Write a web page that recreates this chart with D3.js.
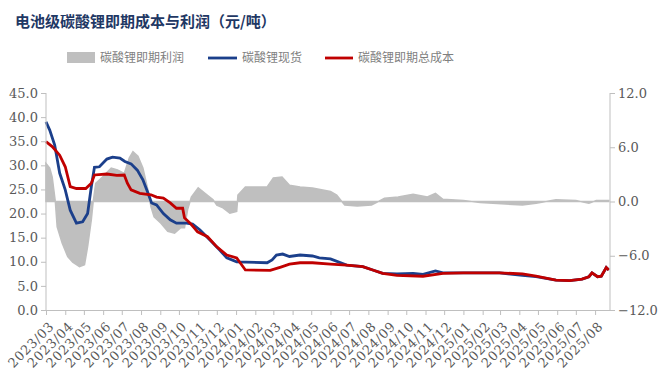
<!DOCTYPE html>
<html lang="zh">
<head>
<meta charset="UTF-8">
<script src="https://cdn.jsdelivr.net/npm/d3@7"></script>
<title>电池级碳酸锂即期成本与利润</title>
<style>
  body { margin: 0; background: #fff; }
  svg text { font-family: "DejaVu Serif", "Liberation Serif", serif; fill: #595959; }
  .cjk { font-family: "Noto Sans CJK SC", sans-serif; }
</style>
</head>
<body>
<script>
// 碳酸锂现货 (万元/吨)
let spotDates = ["2023-03-01","2023-03-07","2023-03-15","2023-03-23","2023-04-01","2023-04-09","2023-04-19","2023-04-29","2023-05-07","2023-05-13","2023-05-18","2023-05-26","2023-06-07","2023-06-16","2023-06-28","2023-07-06","2023-07-16","2023-07-26","2023-08-04","2023-08-12","2023-08-18","2023-08-26","2023-09-06","2023-09-17","2023-09-27","2023-10-13","2023-10-23","2023-11-04","2023-11-20","2023-12-06","2023-12-17","2024-01-02","2024-02-20","2024-02-28","2024-03-06","2024-03-16","2024-03-27","2024-04-13","2024-05-03","2024-05-14","2024-06-01","2024-06-27","2024-07-23","2024-08-08","2024-08-24","2024-09-16","2024-10-12","2024-10-28","2024-11-17","2024-11-29","2025-01-01","2025-02-28","2025-04-06","2025-04-28","2025-05-30","2025-06-21","2025-07-11","2025-07-22","2025-07-27","2025-08-05","2025-08-11","2025-08-19","2025-08-23"];
let spotValues = [39.0,37.3,34.2,28.4,24.9,20.7,18.0,18.3,20.0,25.6,29.6,29.7,31.3,31.7,31.5,30.8,30.3,29.0,27.0,24.3,22.2,21.8,20.0,18.7,18.0,18.0,17.8,16.6,14.5,12.4,10.8,10.0,9.8,10.4,11.4,11.6,11.1,11.4,11.2,10.8,10.6,9.3,9.0,8.3,7.6,7.5,7.6,7.4,8.1,7.7,7.7,7.7,7.2,6.9,6.2,6.1,6.4,6.9,7.7,6.9,7.0,8.8,8.3];

// 碳酸锂即期总成本
let costDates = ["2023-03-01","2023-03-11","2023-03-23","2023-04-01","2023-04-09","2023-04-19","2023-05-04","2023-05-13","2023-05-18","2023-06-07","2023-06-23","2023-07-05","2023-07-10","2023-07-16","2023-07-30","2023-08-17","2023-08-26","2023-09-06","2023-09-17","2023-09-27","2023-10-07","2023-10-10","2023-10-19","2023-10-31","2023-11-16","2023-12-01","2023-12-17","2024-01-02","2024-01-16","2024-02-25","2024-03-13","2024-03-27","2024-04-13","2024-05-03","2024-06-01","2024-06-27","2024-07-23","2024-08-08","2024-08-24","2024-09-16","2024-10-28","2024-11-29","2025-01-01","2025-02-28","2025-04-06","2025-04-28","2025-05-30","2025-06-21","2025-07-11","2025-07-22","2025-07-27","2025-08-05","2025-08-11","2025-08-19","2025-08-23"];
let costValues = [34.9,33.9,32.1,29.7,25.6,25.2,25.2,26.3,28.0,28.2,27.9,28.0,26.3,24.9,24.2,23.9,23.4,23.2,22.2,21.1,21.1,19.1,18.0,16.2,15.2,13.1,11.4,10.8,8.3,8.2,8.9,9.5,9.8,9.8,9.5,9.3,9.0,8.3,7.6,7.2,7.0,7.6,7.7,7.7,7.5,7.0,6.2,6.1,6.4,6.9,7.7,6.9,7.0,8.8,8.3];

// 碳酸锂即期利润 (右轴)
let profitDates = ["2023-03-01","2023-03-07","2023-03-11","2023-03-16","2023-03-19","2023-03-27","2023-04-05","2023-04-13","2023-04-24","2023-05-02","2023-05-07","2023-05-13","2023-05-16","2023-05-20","2023-05-31","2023-06-14","2023-06-24","2023-07-05","2023-07-13","2023-07-19","2023-07-27","2023-08-04","2023-08-12","2023-08-17","2023-08-22","2023-09-02","2023-09-13","2023-09-24","2023-10-04","2023-10-10","2023-10-15","2023-10-21","2023-11-01","2023-11-12","2023-11-25","2023-12-01","2023-12-11","2023-12-22","2024-01-02","2024-01-04","2024-01-16","2024-02-20","2024-03-01","2024-03-15","2024-03-27","2024-04-13","2024-05-03","2024-06-01","2024-06-11","2024-06-24","2024-07-14","2024-08-06","2024-08-27","2024-09-18","2024-10-12","2024-11-04","2024-11-17","2024-11-29","2025-01-01","2025-01-28","2025-04-06","2025-04-28","2025-05-30","2025-07-01","2025-07-22","2025-08-03","2025-08-23"];
let profitValues = [4.2,3.7,2.7,0,-2.8,-4.6,-6.1,-6.7,-7.2,-7.0,-5.0,-2.0,0,2.0,2.7,3.7,3.5,3.1,4.8,5.5,5.0,3.7,1.3,-0.6,-1.7,-2.4,-3.3,-3.5,-2.9,-2.9,-0.9,0.5,1.5,0.9,0.2,-0.4,-0.7,-1.3,-1.1,0.7,1.6,1.6,2.6,2.7,1.8,1.6,1.5,1.1,0.7,-0.4,-0.5,-0.4,0.35,0.5,0.8,0.5,0.9,0.25,0.1,-0.1,-0.4,-0.2,0.2,0.1,-0.2,0.1,0.1];

let leftTicks = [0,5,10,15,20,25,30,35,40,45];
let rightTicks = [-12,-6,0,6,12];

let parse = d3.timeParse("%Y-%m-%d");
let spot = spotDates.map((d,i)=>({date:parse(d), v:spotValues[i]}));
let cost = costDates.map((d,i)=>({date:parse(d), v:costValues[i]}));
let profit = profitDates.map((d,i)=>({date:parse(d), v:profitValues[i]}));

let width = 660, height = 380;
let plotLeft = 46, plotRight = 610, plotTop = 93, plotBottom = 310;

let svg = d3.select("body").append("svg")
    .attr("width", width)
    .attr("height", height);

let x = d3.scaleTime()
    .domain([parse("2023-03-01"), parse("2025-08-25")])
    .range([plotLeft, plotRight]);
let yL = d3.scaleLinear().domain([0,45]).range([plotBottom, plotTop]);
let yR = d3.scaleLinear().domain([-12,12]).range([plotBottom, plotTop]);

// title
svg.append("text")
    .attr("class","cjk")
    .attr("x", 15).attr("y", 27)
    .style("font-size","15px")
    .style("font-weight","bold")
    .style("fill","#1f3864")
    .text("电池级碳酸锂即期成本与利润（元/吨）");

// legend
let legend = svg.append("g");
legend.append("rect").attr("x",67).attr("y",52).attr("width",28).attr("height",11).attr("fill","#bfbfbf");
legend.append("text").attr("class","cjk").attr("x",100).attr("y",62).style("font-size","12px").style("fill","#7f7f7f").text("碳酸锂即期利润");
legend.append("line").attr("x1",208).attr("x2",237).attr("y1",58).attr("y2",58).attr("stroke","#1b3f8b").attr("stroke-width",2.8);
legend.append("text").attr("class","cjk").attr("x",242).attr("y",62).style("font-size","12px").style("fill","#7f7f7f").text("碳酸锂现货");
legend.append("line").attr("x1",325).attr("x2",353).attr("y1",58).attr("y2",58).attr("stroke","#c00000").attr("stroke-width",2.8);
legend.append("text").attr("class","cjk").attr("x",358).attr("y",62).style("font-size","12px").style("fill","#7f7f7f").text("碳酸锂即期总成本");

// profit area
let area = d3.area()
    .x(d=>x(d.date))
    .y0(yR(0))
    .y1(d=>yR(d.v));
svg.append("path")
    .datum(profit)
    .attr("d", area)
    .attr("fill","#bfbfbf")
    .attr("stroke","#bfbfbf")
    .attr("stroke-width",1.5);

// lines
let line = d3.line().x(d=>x(d.date)).y(d=>yL(d.v));
svg.append("path").datum(spot)
    .attr("d", line).attr("fill","none")
    .attr("stroke","#1b3f8b").attr("stroke-width",2.8);
svg.append("path").datum(cost)
    .attr("d", line).attr("fill","none")
    .attr("stroke","#c00000").attr("stroke-width",2.8);

// axes
let axisColor = "#bfbfbf";
let gL = svg.append("g").attr("transform","translate("+plotLeft+",0)")
    .call(d3.axisLeft(yL).tickValues(leftTicks).tickFormat(d3.format(".1f")).tickSize(5).tickPadding(3));
let gR = svg.append("g").attr("transform","translate("+plotRight+",0)")
    .call(d3.axisRight(yR).tickValues(rightTicks).tickFormat(d3.format(".1f")).tickSize(5).tickPadding(3));
let gX = svg.append("g").attr("transform","translate(0,"+plotBottom+")")
    .call(d3.axisBottom(x).ticks(d3.timeMonth.every(1)).tickFormat(d3.timeFormat("%Y/%m")).tickSize(5).tickSizeOuter(0));

[gL,gR,gX].forEach(g=>{
    g.selectAll("path, line").attr("stroke", axisColor);
    g.selectAll("text")
        .style("font-family","'DejaVu Serif', serif")
        .style("font-size","13px")
        .attr("fill","#595959");
});
gL.select(".domain").attr("d","M0,"+plotTop+"V"+plotBottom);
gR.select(".domain").attr("d","M0,"+plotTop+"V"+plotBottom);

gX.selectAll("text")
    .attr("text-anchor","end")
    .attr("dy","0.35em")
    .attr("y",0)
    .style("letter-spacing","0.6px")
    .attr("transform","translate(5,14) rotate(-45)");
</script>
</body>
</html>
